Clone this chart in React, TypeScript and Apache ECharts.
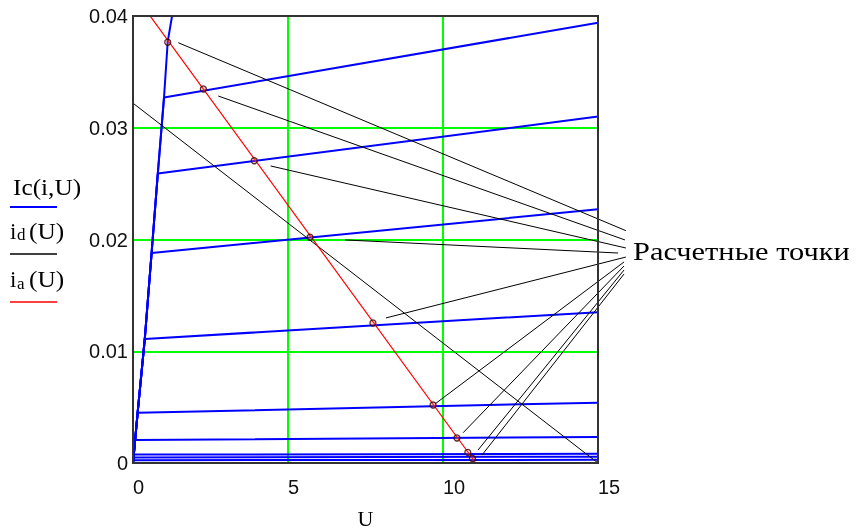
import React, { useEffect, useRef } from "react";
import * as echarts from "echarts";

// ---- data ----
const xTicks = [0, 5, 10, 15];
const yTicks = [0, 0.01, 0.02, 0.03, 0.04];

// steep (saturation) envelope shared by the Ic(i,U) family
const envU = [0, 0.15, 0.38, 0.6, 0.8, 1.0, 1.12, 1.26, 1.3];
const envI = [0, 0.0045, 0.0111, 0.0188, 0.0259, 0.0327, 0.0377, 0.04, 0.0414];

// Ic(i,U): knee point and value at U = 15 for each base current
const icKneeU = [1.0, 0.8, 0.6, 0.38, 0.15, 0.07, 0.03, 0.02, 0.01, 0];
const icKneeI = [0.0327, 0.0259, 0.0188, 0.0111, 0.0045, 0.00205, 0.00075, 0.0005, 0.00025, 0];
const icEndI = [0.0394, 0.031, 0.0227, 0.0135, 0.0054, 0.00233, 0.00083, 0.00056, 0.00028, 0];

// id(U)
const idU = [0, 15];
const idI = [0.0322, 0];

// ia(U) load line
const iaU = [0, 11.06];
const iaI = [0.0421, 0];

// calculated points
const calcU = [1.12, 2.27, 3.91, 5.71, 7.74, 9.68, 10.45, 10.8, 10.95];
const calcI = [0.03765, 0.03347, 0.02705, 0.0202, 0.01253, 0.00519, 0.00224, 0.00095, 0.0004];

// leader lines to the label "Расчетные точки"
const leadStartU = [1.46, 2.75, 4.44, 6.84, 8.16, 9.74, 10.65, 11.13, 11.26];
const leadStartI = [0.03761, 0.03284, 0.02658, 0.01996, 0.01298, 0.00528, 0.00271, 0.00116, 0.00072];
const leadEndU = [15.9, 15.87, 15.9, 15.65, 15.9, 15.84, 15.84, 15.84, 15.84];
const leadEndI = [0.02079, 0.01996, 0.01924, 0.01879, 0.01843, 0.01799, 0.01763, 0.01727, 0.01691];

const labelText = "Расчетные точки";

const BLUE = "#0000ff";
const RED = "#ff0000";
const GREEN = "#00ff00";
const SERIF = '"Liberation Serif", "Times New Roman", serif';
const SANS = '"Liberation Sans", Arial, sans-serif';

export default function App() {
  const ref = useRef<HTMLDivElement>(null);

  useEffect(() => {
    if (!ref.current) return;
    const chart = echarts.init(ref.current, undefined, { renderer: "svg" });

    const blueSeries: any[] = icKneeI.map((ki, k) => {
      const pts: number[][] = [];
      envU.forEach((u, j) => {
        if (envI[j] < ki && u < icKneeU[k]) pts.push([u, envI[j]]);
      });
      pts.push([icKneeU[k], ki]);
      pts.push([15, icEndI[k]]);
      return {
        type: "line",
        name: "Ic(i,U)",
        data: pts,
        symbol: "none",
        lineStyle: { color: BLUE, width: 2 },
        z: 2,
      };
    });
    blueSeries.push({
      type: "line",
      name: "Ic(i,U)",
      data: envU.map((u, j) => [u, envI[j]]),
      symbol: "none",
      lineStyle: { color: BLUE, width: 2 },
      z: 2,
    });

    const baseGraphic: any[] = [
      {
        type: "rect",
        z: 50,
        shape: { x: 133, y: 16, width: 465, height: 447 },
        style: { fill: "none", stroke: "#333", lineWidth: 2 },
      },
      // legend
      { type: "text", x: 13, y: 187, scaleX: 1.1, style: { text: "Ic(i,U)", font: `23px ${SERIF}`, fill: "#000", verticalAlign: "middle" } },
      { type: "line", shape: { x1: 10, y1: 207, x2: 57, y2: 207 }, style: { stroke: BLUE, lineWidth: 2 } },
      { type: "text", x: 10, y: 231, style: { text: "i", font: `23px ${SERIF}`, fill: "#000", verticalAlign: "middle" } },
      { type: "text", x: 17, y: 234, style: { text: "d", font: `17px ${SERIF}`, fill: "#000", verticalAlign: "middle" } },
      { type: "text", x: 29, y: 231, scaleX: 1.1, style: { text: "(U)", font: `23px ${SERIF}`, fill: "#000", verticalAlign: "middle" } },
      { type: "line", shape: { x1: 10, y1: 254, x2: 57, y2: 254 }, style: { stroke: "#000", lineWidth: 1.5 } },
      { type: "text", x: 10, y: 279, style: { text: "i", font: `23px ${SERIF}`, fill: "#000", verticalAlign: "middle" } },
      { type: "text", x: 17, y: 283, style: { text: "a", font: `17px ${SERIF}`, fill: "#000", verticalAlign: "middle" } },
      { type: "text", x: 29, y: 279, scaleX: 1.1, style: { text: "(U)", font: `23px ${SERIF}`, fill: "#000", verticalAlign: "middle" } },
      { type: "line", shape: { x1: 10, y1: 302, x2: 57, y2: 302 }, style: { stroke: RED, lineWidth: 1.5 } },
      // annotation label
      { type: "text", x: 633, y: 251, scaleX: 1.17, style: { text: labelText, font: `26px ${SERIF}`, fill: "#000", verticalAlign: "middle" } },
    ];

    const option: any = {
      animation: false,
      grid: { left: 133, top: 16, width: 465, height: 447, outerBoundsMode: "none", containLabel: false },
      xAxis: {
        type: "value",
        min: xTicks[0],
        max: xTicks[xTicks.length - 1],
        interval: 5,
        name: "U",
        nameLocation: "middle",
        nameGap: 44,
        nameTextStyle: { fontFamily: SERIF, fontSize: 22, color: "#000" },
        axisLine: { show: false },
        axisTick: { show: false },
        axisLabel: {
          fontFamily: SANS,
          fontSize: 20,
          color: "#111",
          align: "left",
          margin: 14,
          formatter: (v: number) => String(v),
        },
        splitLine: { show: true, lineStyle: { color: GREEN, width: 2 } },
      },
      yAxis: {
        type: "value",
        min: yTicks[0],
        max: yTicks[yTicks.length - 1],
        interval: 0.01,
        axisLine: { show: false },
        axisTick: { show: false },
        axisLabel: {
          fontFamily: SANS,
          fontSize: 20,
          color: "#111",
          margin: 5,
          formatter: (v: number) => (v === 0 ? "0" : v.toFixed(2)),
        },
        splitLine: { show: true, lineStyle: { color: GREEN, width: 2 } },
      },
      series: [
        ...blueSeries,
        {
          type: "line",
          name: "id(U)",
          data: idU.map((u, j) => [u, idI[j]]),
          symbol: "none",
          lineStyle: { color: "#000", width: 1 },
          z: 3,
        },
        {
          type: "line",
          name: "ia(U)",
          data: iaU.map((u, j) => [u, iaI[j]]),
          symbol: "none",
          lineStyle: { color: RED, width: 1.2 },
          z: 4,
        },
        {
          type: "scatter",
          data: calcU.map((u, j) => [u, calcI[j]]),
          symbol: "circle",
          symbolSize: 6,
          itemStyle: { color: "rgba(255,80,80,0.35)", borderColor: "#300000", borderWidth: 1.3 },
          z: 6,
        },
      ],
      graphic: baseGraphic,
    };

    chart.setOption(option);

    // leader lines extend beyond the plot, so place them via the chart's own scales
    const leaders = leadStartU.map((u, k) => {
      const p1 = chart.convertToPixel({ gridIndex: 0 }, [u, leadStartI[k]]) as number[];
      const p2 = chart.convertToPixel({ gridIndex: 0 }, [leadEndU[k], leadEndI[k]]) as number[];
      return {
        type: "line",
        z: 40,
        shape: { x1: p1[0], y1: p1[1], x2: p2[0], y2: p2[1] },
        style: { stroke: "#000", lineWidth: 1 },
      };
    });
    chart.setOption({ graphic: [...baseGraphic, ...leaders] });

    return () => chart.dispose();
  }, []);

  return <div ref={ref} style={{ position: "fixed", left: 0, top: 0, width: 860, height: 531 }} />;
}
